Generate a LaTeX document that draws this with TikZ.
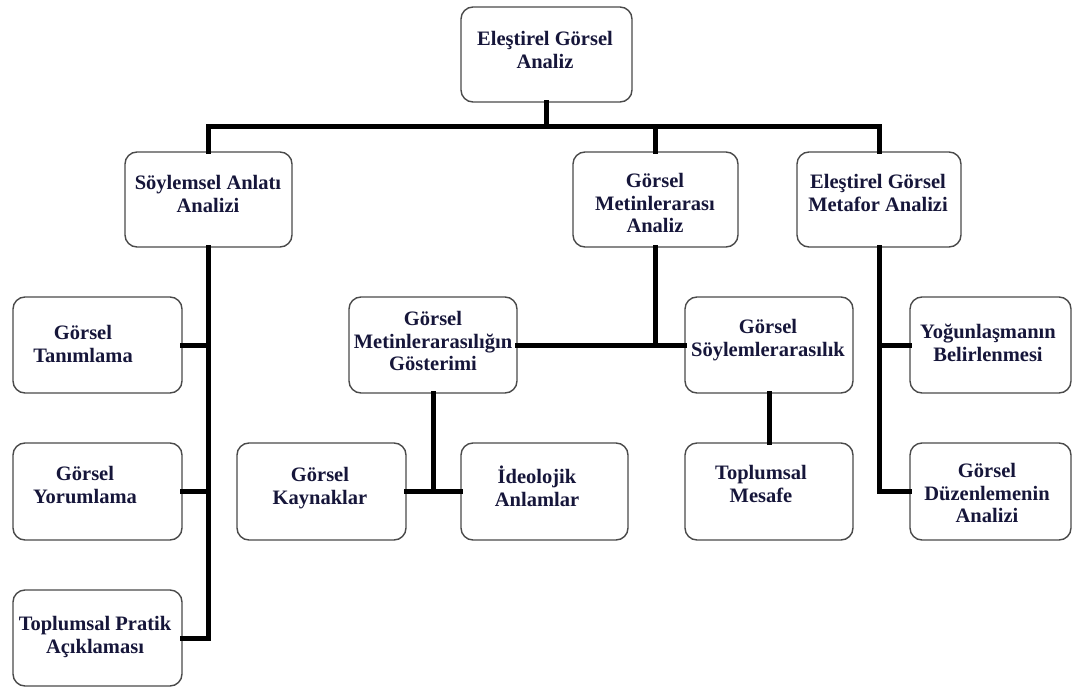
\documentclass[tikz,border=0pt]{standalone}
\usepackage{fontspec}
\setmainfont{Liberation Serif}
\definecolor{txt}{HTML}{16163A}
\definecolor{bord}{HTML}{4A4A4A}
\tikzset{
  box/.style={draw=bord,line width=1.4pt,rounded corners=12pt,fill=white,inner sep=0pt},
  lbl/.style={align=center,text=txt,font=\bfseries\fontsize{20.5}{22.8}\selectfont,inner sep=0pt},
  conn/.style={line width=5pt,black,line cap=rect,line join=miter}
}
% name, x1, y1, x2, y2, text x, text y, text
\newcommand{\mybox}[8]{%
  \node[box,minimum width={#4-#2},minimum height={#5-#3}] (#1) at ({(#2+#4)/2},{(#3+#5)/2}) {};
  \node[lbl] (#1-t) at (#6,#7) {#8};
}
\begin{document}
\begin{tikzpicture}[x=1pt,y=-1pt]
\useasboundingbox (0,0) rectangle (1073,690);
\fill[white] (0,0) rectangle (1073,690);
\coordinate (busL) at (208,127);
\mybox{top}{461}{7}{632}{102}{545}{50}{Eleştirel Görsel\\Analiz}
\mybox{sa}{125}{152}{292}{247}{208}{194}{Söylemsel Anlatı\\Analizi}
\mybox{ga}{573}{152}{738}{247}{655}{203}{Görsel\\Metinlerarası\\Analiz}
\mybox{mf}{797}{152}{961}{247}{878}{193}{Eleştirel Görsel\\Metafor Analizi}
\mybox{tan}{13}{297}{182}{393}{83}{344}{Görsel\\Tanımlama}
\mybox{yor}{13}{443}{182}{540}{85}{485}{Görsel\\Yorumlama}
\mybox{tpa}{13}{590}{182}{686}{95}{637}{Toplumsal Pratik\\Açıklaması}
\mybox{gos}{349}{297}{517}{393}{433}{341}{Görsel\\Metinlerarasılığın\\Gösterimi}
\mybox{sy}{685}{297}{853}{393}{768}{340}{Görsel\\Söylemlerarasılık}
\mybox{kay}{237}{443}{406}{540}{320}{488}{Görsel\\Kaynaklar}
\mybox{ide}{461}{443}{628}{540}{537}{486}{İdeolojik\\Anlamlar}
\mybox{tm}{685}{443}{853}{540}{761}{484}{Toplumsal\\Mesafe}
\mybox{yog}{910}{297}{1071}{393}{988}{343}{Yoğunlaşmanın\\Belirlenmesi}
\mybox{duz}{910}{443}{1071}{540}{987}{493}{Görsel\\Düzenlemenin\\Analizi}
% connectors
\draw[conn] (top.south) -- (top.south |- busL);
\draw[conn] (sa.north) -- (sa.north |- busL) -- (mf.north |- busL) -- (mf.north);
\draw[conn] (ga.north) -- (ga.north |- busL);
\draw[conn] (sa.south) -- (sa.south |- tpa.east) -- (tpa.east);
\draw[conn] (tan.east) -- (tan.east -| sa.south);
\draw[conn] (yor.east) -- (yor.east -| sa.south);
\draw[conn] (ga.south) -- (ga.south |- gos.east);
\draw[conn] (gos.east) -- (sy.west);
\draw[conn] (gos.south) -- (gos.south |- kay.east);
\draw[conn] (kay.east) -- (ide.west);
\draw[conn] (sy.south) -- (tm.north);
\draw[conn] (mf.south) -- (mf.south |- duz.west) -- (duz.west);
\draw[conn] (yog.west) -- (yog.west -| mf.south);
\end{tikzpicture}
\end{document}
